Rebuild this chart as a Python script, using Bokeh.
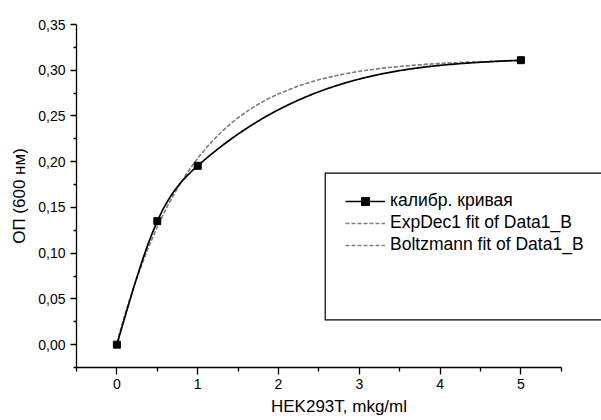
import numpy as np
from bokeh.plotting import figure
from bokeh.models import (FixedTicker, CustomJSTickFormatter, Legend, LegendItem,
                          Range1d)
from bokeh.embed import file_html
from bokeh.resources import INLINE

# ---- data ----
conc = [0.0, 0.5, 1.0, 5.0]                 # HEK293T, mkg/ml
od = [0.0, 0.135, 0.1955, 0.311]            # OD (600 nm)

# the two fit curves (they lie on top of each other)
fit_x = [0.0, 0.0625, 0.125, 0.1875, 0.25, 0.375, 0.5, 0.625, 0.75, 0.875,
         1.0, 1.125, 1.25, 1.375, 1.5, 1.625, 1.75, 1.875, 2.0, 2.25, 2.5,
         2.75, 3.0, 3.25, 3.5, 3.75, 4.0, 4.25, 4.5, 4.75, 5.0]
expdec_y = [0.0020, 0.0217, 0.0402, 0.0575, 0.0737, 0.1031, 0.1289, 0.1515,
            0.1712, 0.1886, 0.2038, 0.2171, 0.2288, 0.2391, 0.2481, 0.2560,
            0.2629, 0.2689, 0.2742, 0.2830, 0.2897, 0.2948, 0.2988, 0.3019,
            0.3042, 0.3060, 0.3074, 0.3085, 0.3093, 0.3099, 0.3104]
boltz_y = [0.0020, 0.0217, 0.0402, 0.0575, 0.0737, 0.1031, 0.1289, 0.1515,
           0.1712, 0.1886, 0.2038, 0.2171, 0.2288, 0.2391, 0.2481, 0.2560,
           0.2629, 0.2689, 0.2742, 0.2830, 0.2897, 0.2948, 0.2988, 0.3019,
           0.3042, 0.3060, 0.3074, 0.3085, 0.3093, 0.3099, 0.3104]

x_ticks = [0, 1, 2, 3, 4, 5]
x_minor = [-0.5, 0.5, 1.5, 2.5, 3.5, 4.5, 5.5]
y_ticks = [0.0, 0.05, 0.10, 0.15, 0.20, 0.25, 0.30, 0.35]
y_minor = [-0.025, 0.025, 0.075, 0.125, 0.175, 0.225, 0.275, 0.325]

labels = ["калибр. кривая", "ExpDec1 fit of Data1_B", "Boltzmann fit of Data1_B"]
x_title = "HEK293T, mkg/ml"
y_title = "ОП (600 нм)"

# legend frame (layout constants, data units)
BOX_LEFT, BOX_TOP, BOX_BOTTOM, BOX_FAR = 2.578, 0.1874, 0.027, 7.0


def natural_spline(xk, yk, n=300):
    """Smooth (spline) connection through the data points, as Origin draws it."""
    xk = np.asarray(xk, float)
    yk = np.asarray(yk, float)
    m = len(xk)
    h = np.diff(xk)
    A = np.zeros((m, m))
    b = np.zeros(m)
    A[0, 0] = A[-1, -1] = 1.0
    for i in range(1, m - 1):
        A[i, i - 1] = h[i - 1]
        A[i, i] = 2 * (h[i - 1] + h[i])
        A[i, i + 1] = h[i]
        b[i] = 6 * ((yk[i + 1] - yk[i]) / h[i] - (yk[i] - yk[i - 1]) / h[i - 1])
    M = np.linalg.solve(A, b)
    xs = np.linspace(xk[0], xk[-1], n)
    ys = np.empty_like(xs)
    for j, x in enumerate(xs):
        i = min(np.searchsorted(xk, x, side="right") - 1, m - 2)
        hi = h[i]
        a = xk[i + 1] - x
        c = x - xk[i]
        ys[j] = (M[i] * a ** 3 / (6 * hi) + M[i + 1] * c ** 3 / (6 * hi)
                 + (yk[i] / hi - M[i] * hi / 6) * a
                 + (yk[i + 1] / hi - M[i + 1] * hi / 6) * c)
    return xs, ys


FONT = "Liberation Sans"

p = figure(width=601, height=420, output_backend="svg", toolbar_location=None,
           x_range=Range1d(-0.5, 5.997), y_range=Range1d(-0.025, 0.35),
           min_border_left=76, min_border_right=0, min_border_top=24,
           min_border_bottom=53)
p.outline_line_color = None
p.xgrid.visible = False
p.ygrid.visible = False
p.background_fill_color = "white"
p.border_fill_color = "white"

# legend frame (open on the right, runs off the canvas as in the reference)
p.line([BOX_FAR, BOX_LEFT, BOX_LEFT, BOX_FAR], [BOX_TOP, BOX_TOP, BOX_BOTTOM, BOX_BOTTOM],
       line_color="black", line_width=1.2, line_join="miter")

sx, sy = natural_spline(conc, od)
r_exp = p.line(fit_x, expdec_y, line_color="#808080", line_width=1.3, line_dash="4 2")
r_bol = p.line(fit_x, boltz_y, line_color="#808080", line_width=1.3, line_dash="4 2")
r_line = p.line(sx, sy, line_color="black", line_width=1.7)
r_pts = p.scatter(conc, od, marker="square", size=7, color="black")

# axes
xa = p.xaxis[0]
xa.ticker = FixedTicker(ticks=x_ticks, minor_ticks=x_minor)
xa.bounds = (-0.5, 5.5)
xa.axis_label = x_title
ya = p.yaxis[0]
ya.ticker = FixedTicker(ticks=y_ticks, minor_ticks=y_minor)
ya.formatter = CustomJSTickFormatter(code="return tick.toFixed(2).replace('.', ',');")
ya.axis_label = y_title

for ax, maj, mnr in ((xa, 7, 4), (ya, 6, 3)):
    ax.axis_line_color = "black"
    ax.axis_line_width = 1.3
    ax.major_tick_line_color = "black"
    ax.major_tick_line_width = 1.3
    ax.minor_tick_line_color = "black"
    ax.minor_tick_line_width = 1.3
    ax.major_tick_in = 0
    ax.major_tick_out = maj
    ax.minor_tick_in = 0
    ax.minor_tick_out = mnr
    ax.major_label_text_font = FONT
    ax.major_label_text_font_size = "14px"
    ax.major_label_text_color = "black"
    ax.axis_label_text_font = FONT
    ax.axis_label_text_font_size = "17px"
    ax.axis_label_text_font_style = "normal"
    ax.axis_label_text_color = "black"
xa.major_label_standoff = 4
xa.axis_label_standoff = 5
ya.major_label_standoff = 5
ya.axis_label_standoff = 6

legend = Legend(items=[LegendItem(label=labels[0], renderers=[r_line, r_pts]),
                       LegendItem(label=labels[1], renderers=[r_exp]),
                       LegendItem(label=labels[2], renderers=[r_bol])],
                location=(269, 112), padding=0, margin=0, spacing=1,
                glyph_width=40, glyph_height=20, label_height=20,
                label_standoff=5, label_text_font=FONT,
                label_text_font_size="17.5px", label_text_color="black",
                border_line_color=None, background_fill_alpha=0)
p.add_layout(legend)

open("out.html", "w").write(file_html(p, INLINE))
